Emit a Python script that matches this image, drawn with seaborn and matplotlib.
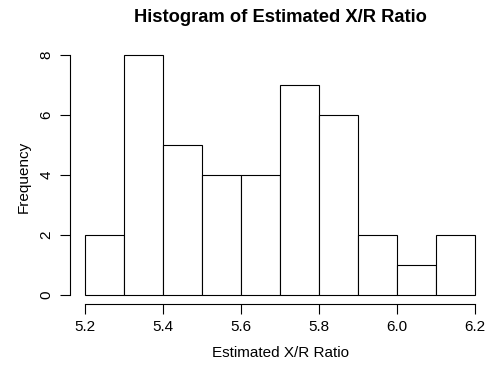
import matplotlib
matplotlib.use("Agg")
import matplotlib.pyplot as plt
import seaborn as sns
import numpy as np
import pandas as pd

bin_edges = [5.2, 5.3, 5.4, 5.5, 5.6, 5.7, 5.8, 5.9, 6.0, 6.1, 6.2]
counts = [2, 8, 5, 4, 4, 7, 6, 2, 1, 2]
x_ticks = [5.2, 5.4, 5.6, 5.8, 6.0, 6.2]
x_tick_labels = ["5.2", "5.4", "5.6", "5.8", "6.0", "6.2"]
y_ticks = [0, 2, 4, 6, 8]
title = "Histogram of Estimated X/R Ratio"
xlabel = "Estimated X/R Ratio"
ylabel = "Frequency"

mids = [(a + b) / 2 for a, b in zip(bin_edges[:-1], bin_edges[1:])]
df = pd.DataFrame({"ratio": mids, "count": counts})

sns.set_theme(style="white")
plt.rcParams["font.family"] = ["Liberation Sans", "DejaVu Sans"]

W, H = 490, 366
fig = plt.figure(figsize=(W / 100, H / 100), dpi=100)
left_px, right_px = 69.7, 490.0
top_px, bottom_px = 45.1, 304.3
ax = fig.add_axes([left_px / W, 1 - bottom_px / H,
                   (right_px - left_px) / W, (bottom_px - top_px) / H])

sns.histplot(data=df, x="ratio", weights="count", bins=bin_edges,
             stat="count", color="white", edgecolor="black",
             linewidth=0.8, alpha=1, ax=ax)

x0 = 5.2 - (85.3 - left_px) / 390
x1 = 5.2 + (right_px - 85.3) / 390
ax.set_xlim(x0, x1)
ax.set_ylim(-0.32, 8.32)

for s in ["top", "right"]:
    ax.spines[s].set_visible(False)
for s in ["left", "bottom"]:
    ax.spines[s].set_color("black")
    ax.spines[s].set_linewidth(0.8)
ax.spines["bottom"].set_bounds(5.2, 6.2)
ax.spines["left"].set_bounds(0, 8)

ax.set_xticks(x_ticks)
ax.set_xticklabels(x_tick_labels)
ax.set_yticks(y_ticks)
ax.set_yticklabels([str(v) for v in y_ticks], rotation=90, va="center")
ax.tick_params(axis="both", which="both", direction="out", length=7,
               width=0.8, color="black", labelsize=11, labelcolor="black",
               bottom=True, left=True)
ax.tick_params(axis="x", pad=4.5)
ax.tick_params(axis="y", pad=4.5)

ax.set_xlabel("")
ax.set_ylabel("")
fig.text(280 / W, 1 - 353 / H, xlabel, ha="center", va="center",
         fontsize=11, color="black")
fig.text(24 / W, 1 - 177 / H, ylabel, ha="center", va="center",
         rotation=90, fontsize=11, color="black")
fig.text(280 / W, 1 - 18 / H, title, ha="center", va="center",
         fontsize=13.2, fontweight="bold", color="black")

fig.savefig("out.png", dpi=100, facecolor="white")
